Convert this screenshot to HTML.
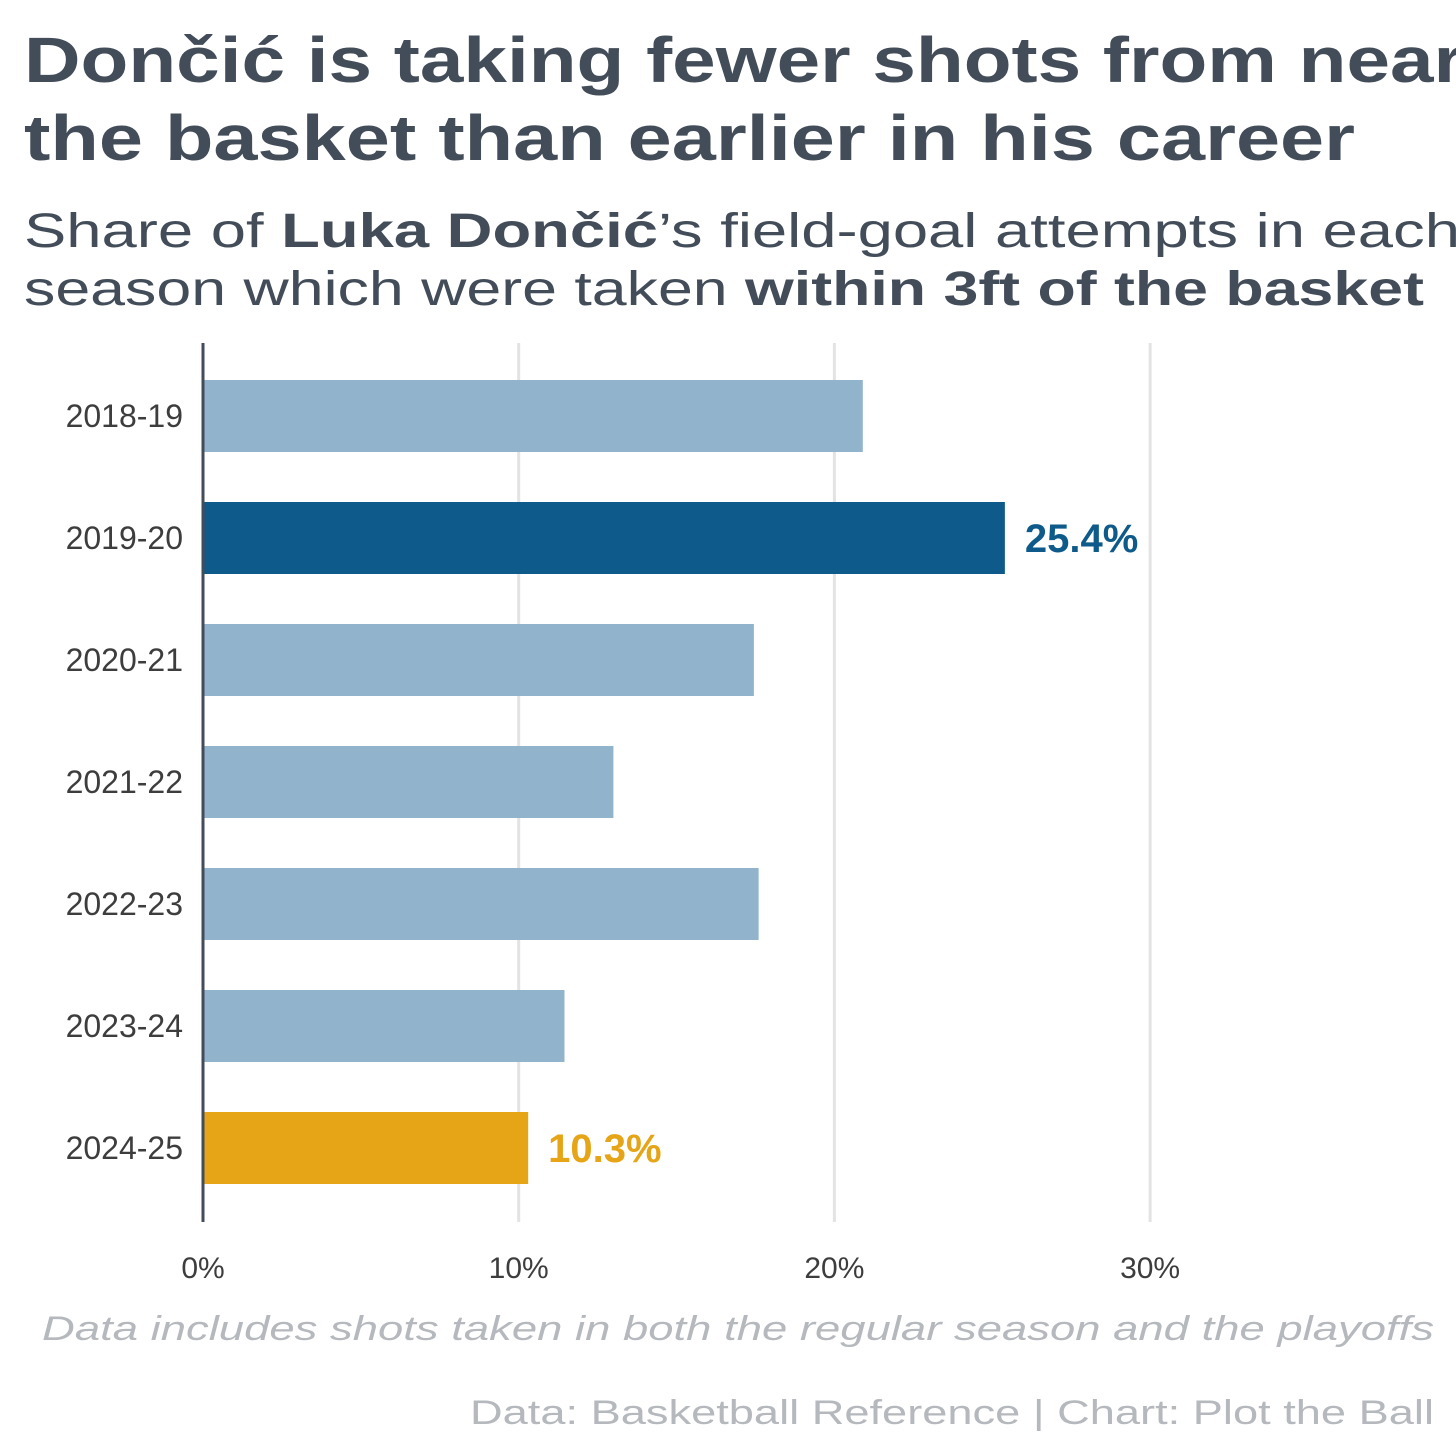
<!DOCTYPE html>
<html><head><meta charset="utf-8"><style>
html,body{margin:0;padding:0;background:#fff}
svg{display:block;font-family:"Liberation Sans",sans-serif}
</style></head><body>
<svg id="chart" width="1456" height="1456" viewBox="0 0 1456 1456">
<g fill="#434d59" font-weight="bold" font-size="64">
<text x="24" y="82" textLength="1440" lengthAdjust="spacingAndGlyphs">Dončić is taking fewer shots from near</text>
<text x="24" y="160" textLength="1331" lengthAdjust="spacingAndGlyphs">the basket than earlier in his career</text>
</g>
<g fill="#434d59" font-size="48">
<text x="24" y="247" textLength="1436" lengthAdjust="spacingAndGlyphs">Share of <tspan font-weight="bold">Luka Dončić</tspan>’s field-goal attempts in each</text>
<text x="24" y="305" textLength="1400" lengthAdjust="spacingAndGlyphs">season which were taken <tspan font-weight="bold">within 3ft of the basket</tspan></text>
</g>
<g id="grid"></g>
<g id="bars"></g>
<line x1="203" y1="343" x2="203" y2="1222" stroke="#434d59" stroke-width="3"/>
<g id="ylabels" fill="#3d3d3d" font-size="32" text-anchor="end"></g>
<g id="xlabels" fill="#3d3d3d" font-size="30" text-anchor="middle"></g>
<text x="42" y="1340" font-size="34" font-style="italic" fill="#b5b8bd" textLength="1392" lengthAdjust="spacingAndGlyphs">Data includes shots taken in both the regular season and the playoffs</text>
<text x="470" y="1424" font-size="34" fill="#b5b8bd" textLength="964" lengthAdjust="spacingAndGlyphs">Data: Basketball Reference | Chart: Plot the Ball</text>
</svg>
<script>
const seasons=["2018-19","2019-20","2020-21","2021-22","2022-23","2023-24","2024-25"];
const shares=[20.9,25.4,17.45,13.0,17.6,11.45,10.3];
const ticks=[0,10,20,30];
const tickLabels=["0%","10%","20%","30%"];
const NS="http://www.w3.org/2000/svg";
const x=v=>203+v*31.57;
const yc=i=>416+i*122;
const BH=72;
function mk(t,a,p){const e=document.createElementNS(NS,t);for(const k in a)e.setAttribute(k,a[k]);p.appendChild(e);return e;}
const grid=document.getElementById('grid'),bars=document.getElementById('bars'),yl=document.getElementById('ylabels'),xl=document.getElementById('xlabels'),svg=document.getElementById('chart');
ticks.forEach((t,i)=>{
 if(t>0){const l=mk('line',{x1:x(t),x2:x(t),y1:343,y2:1222,stroke:'#e3e3e3','stroke-width':3},grid);
 
 }
 const tx=mk('text',{x:x(t),y:1278},xl);tx.textContent=tickLabels[i];
 
 
});
seasons.forEach((s,i)=>{
 const col=i===1?'#0e5a8a':(i===6?'#e5a517':'#91b4cc');
 const r=mk('rect',{x:x(0),y:yc(i)-BH/2,width:x(shares[i])-x(0),height:BH,fill:col},bars);
 
 
 const t=mk('text',{x:183,y:yc(i)+11},yl);t.textContent=s;
 
 
 if(i===1||i===6){
  const v=mk('text',{x:x(shares[i])+20,y:yc(i)+14,fill:col,'font-size':40,'font-weight':'bold'},svg);
  v.textContent=shares[i].toFixed(1)+'%';
  
  
 }
});
</script>
</body></html>
